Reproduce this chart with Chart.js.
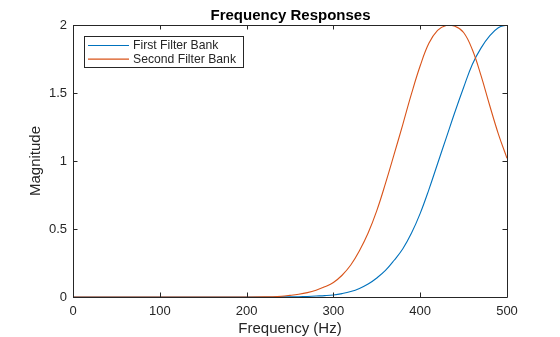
<!DOCTYPE html>
<html>
<head>
<meta charset="utf-8">
<script src="https://cdn.jsdelivr.net/npm/chart.js@4"></script>
<style>
  html, body { margin: 0; padding: 0; background: #fff; }
  #wrap { width: 560px; height: 337px; }
</style>
</head>
<body>
<div id="wrap"><canvas id="freq_chart" width="560" height="337"></canvas></div>
<script>
const freqs = [0, 100, 200, 220, 240, 250, 260, 270, 280, 290, 300, 310, 320, 330, 340, 350,
  360, 370, 380, 390, 400, 410, 420, 430, 440, 450, 460, 470, 480, 490, 500];

// magnitude of each bank
const firstBank = [0, 0, 0, 0, 0.001, 0.001, 0.002, 0.004, 0.007, 0.01, 0.015, 0.025, 0.04, 0.063, 0.095, 0.14,
  0.195, 0.27, 0.355, 0.47, 0.615, 0.79, 0.98, 1.17, 1.36, 1.54, 1.71, 1.83, 1.92, 1.98, 2.0];
const secondBank = [0, 0, 0, 0.001, 0.006, 0.012, 0.02, 0.032, 0.05, 0.075, 0.107, 0.16, 0.235, 0.34, 0.47, 0.635,
  0.835, 1.05, 1.27, 1.495, 1.7, 1.865, 1.96, 1.997, 1.99, 1.945, 1.82, 1.63, 1.41, 1.2, 1.02];

const seriesNames = ['First Filter Bank', 'Second Filter Bank'];
const xTicks = [0, 100, 200, 300, 400, 500];
const yTicks = [0, 0.5, 1, 1.5, 2];

const chartTitle = 'Frequency Responses';
const xTitle = 'Frequency (Hz)';
const yTitle = 'Magnitude';

const axisColor = '#262626';
const fontFamily = '"Liberation Sans", Arial, Helvetica, sans-serif';

function toPoints(ys) {
  return freqs.map((f, i) => ({ x: f, y: ys[i] }));
}

// box, inward ticks, titles and legend, MATLAB style
const matlabAxes = {
  id: 'matlabAxes',
  afterDraw(chart) {
    const ctx = chart.ctx;
    const a = chart.chartArea;
    const xs = chart.scales.x, ys = chart.scales.y;
    const tl = 4.5;
    ctx.save();
    ctx.strokeStyle = axisColor;
    ctx.lineWidth = 1;
    ctx.beginPath();
    ctx.rect(a.left + 0.5, a.top + 0.5, a.right - a.left, a.bottom - a.top);
    ctx.stroke();

    ctx.beginPath();
    xTicks.forEach(v => {
      const px = Math.round(xs.getPixelForValue(v)) + 0.5;
      ctx.moveTo(px, a.bottom); ctx.lineTo(px, a.bottom - tl);
      ctx.moveTo(px, a.top); ctx.lineTo(px, a.top + tl);
    });
    yTicks.forEach(v => {
      const py = Math.round(ys.getPixelForValue(v)) + 0.5;
      ctx.moveTo(a.left, py); ctx.lineTo(a.left + tl, py);
      ctx.moveTo(a.right, py); ctx.lineTo(a.right - tl, py);
    });
    ctx.stroke();

    // titles
    const cx = (a.left + a.right) / 2;
    ctx.fillStyle = '#000';
    ctx.font = 'bold 15px ' + fontFamily;
    ctx.textAlign = 'center';
    ctx.textBaseline = 'alphabetic';
    ctx.fillText(chartTitle, cx + 0.5, 20);

    ctx.fillStyle = axisColor;
    ctx.font = '15px ' + fontFamily;
    ctx.fillText(xTitle, cx, 333);

    ctx.save();
    ctx.translate(40, (a.top + a.bottom) / 2);
    ctx.rotate(-Math.PI / 2);
    ctx.fillText(yTitle, 0, 0);
    ctx.restore();

    // legend
    const lx = 84.5, ly = 36.5, lw = 159, lh = 31;
    ctx.fillStyle = '#fff';
    ctx.fillRect(lx, ly, lw, lh);
    ctx.strokeStyle = axisColor;
    ctx.strokeRect(lx, ly, lw, lh);
    ctx.font = '12.2px ' + fontFamily;
    ctx.textAlign = 'left';
    ctx.textBaseline = 'middle';
    chart.data.datasets.forEach((ds, i) => {
      const rowY = 45.5 + i * 13.7;
      ctx.strokeStyle = ds.borderColor;
      ctx.lineWidth = 1.2;
      ctx.beginPath();
      ctx.moveTo(88, rowY);
      ctx.lineTo(129, rowY);
      ctx.stroke();
      ctx.fillStyle = axisColor;
      ctx.fillText(ds.label, 133, rowY + 0.5);
    });
    ctx.restore();
  }
};

const ctx = document.getElementById('freq_chart').getContext('2d');
const chart = new Chart(ctx, {
  type: 'line',
  data: {
    datasets: [{
      label: seriesNames[0],
      data: toPoints(firstBank),
      borderColor: '#0072BD',
      borderWidth: 1.1,
      pointRadius: 0,
      tension: 0.4,
      order: 1
    }, {
      label: seriesNames[1],
      data: toPoints(secondBank),
      borderColor: '#D95319',
      borderWidth: 1.1,
      pointRadius: 0,
      tension: 0.4,
      order: 0
    }]
  },
  options: {
    responsive: false,
    animation: false,
    layout: { padding: { top: 25, right: 53, left: 0, bottom: 0 } },
    plugins: {
      legend: { display: false },
      title: { display: false },
      tooltip: { enabled: false }
    },
    scales: {
      x: {
        type: 'linear',
        min: 0,
        max: 500,
        afterFit: s => { s.height = 40; },
        afterBuildTicks: s => { s.ticks = xTicks.map(v => ({ value: v })); },
        grid: { display: false, drawTicks: false },
        border: { display: false },
        ticks: {
          color: axisColor,
          padding: 7,
          maxRotation: 0,
          callback: v => String(v),
          font: { family: fontFamily, size: 13 }
        }
      },
      y: {
        min: 0,
        max: 2,
        afterFit: s => { s.width = 73; },
        afterBuildTicks: s => { s.ticks = yTicks.map(v => ({ value: v })); },
        grid: { display: false, drawTicks: false },
        border: { display: false },
        ticks: {
          color: axisColor,
          padding: 6,
          callback: v => String(v),
          font: { family: fontFamily, size: 13 }
        }
      }
    }
  },
  plugins: [matlabAxes]
});
</script>
</body>
</html>
